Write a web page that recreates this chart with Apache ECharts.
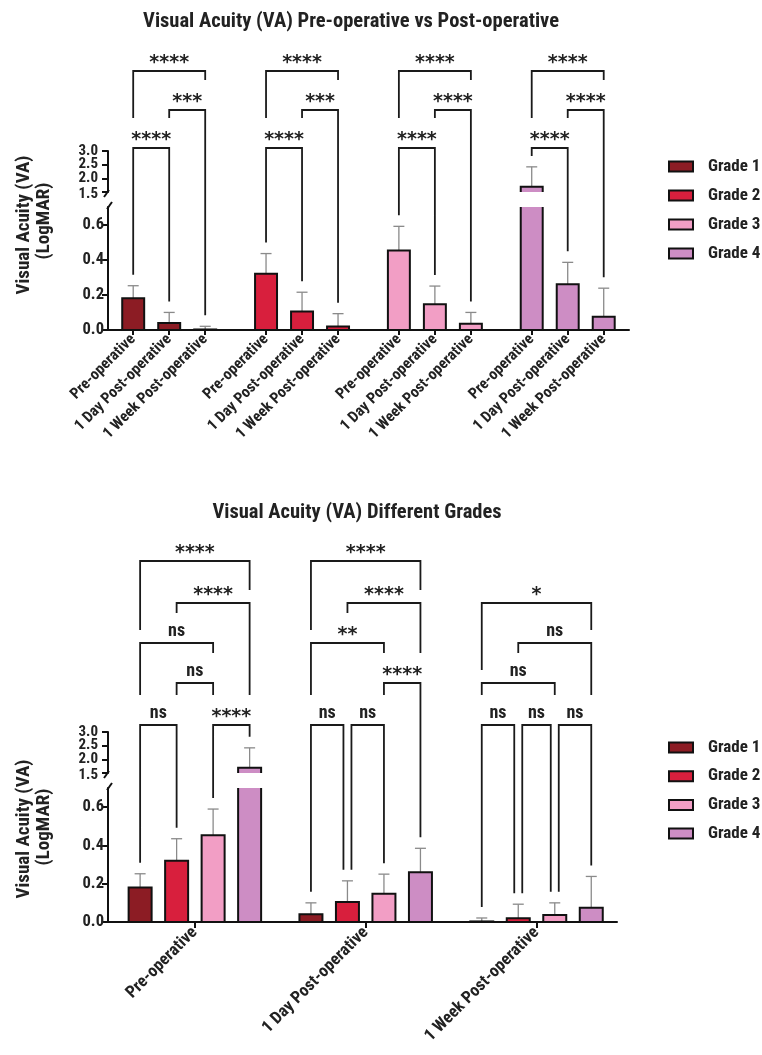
<!DOCTYPE html>
<html><head><meta charset="utf-8">
<script src="https://cdn.jsdelivr.net/npm/echarts@6/dist/echarts.min.js"></script>
<style>html,body{margin:0;padding:0;background:#fff}#c{width:762px;height:1055px}</style>
</head><body><div id="c"></div>
<script>
// ---------------- data ----------------
const grades = ['Grade 1', 'Grade 2', 'Grade 3', 'Grade 4'];
const timepoints = ['Pre-operative', '1 Day Post-operative', '1 Week Post-operative'];
// mean LogMAR per timepoint [Pre, 1 Day, 1 Week]
const meanGrade1 = [0.18, 0.04, 0.003];
const meanGrade2 = [0.32, 0.105, 0.02];
const meanGrade3 = [0.453, 0.147, 0.036];
const meanGrade4 = [1.69, 0.26, 0.075];
// SD (upper error bar) per timepoint
const sdGrade1 = [0.072, 0.06, 0.018];
const sdGrade2 = [0.115, 0.11, 0.073];
const sdGrade3 = [0.137, 0.103, 0.064];
const sdGrade4 = [0.73, 0.125, 0.163];
// broken y axis
const lowerTicks = [0, 0.2, 0.4, 0.6];
const upperTicks = [1.5, 2.0, 2.5, 3.0];
const lowerRange = [0, 0.7];
const upperRange = [1.5, 3.0];
// significance, top chart (within each grade)
const sigPreVs1Day = ['****', '****', '****', '****'];
const sig1DayVs1Week = ['***', '***', '****', '****'];
const sigPreVs1Week = ['****', '****', '****', '****'];
// significance, bottom chart (between grades within each timepoint)
const gradePairs = [[0, 1], [1, 2], [2, 3], [0, 2], [1, 3], [0, 3]];
const sigPre = ['ns', 'ns', '****', 'ns', '****', '****'];
const sig1Day = ['ns', 'ns', '****', '**', '****', '****'];
const sig1Week = ['ns', 'ns', 'ns', 'ns', 'ns', '*'];

// ---------------- style / layout ----------------
const colors = ['#8c1c24', '#d81f3d', '#f29ec5', '#cd8dc4'];
const FONT = "'Liberation Sans Narrow','Roboto Condensed','DejaVu Sans Condensed','Liberation Sans',sans-serif";
const STARFONT = "'DejaVu Sans',sans-serif";
const means = [meanGrade1, meanGrade2, meanGrade3, meanGrade4];
const sds = [sdGrade1, sdGrade2, sdGrade3, sdGrade4];
const TOP_GROUP = 3.69, BOT_GROUP = 4.68;
const xTop = (g, t) => g * TOP_GROUP + t;
const xBot = (t, g) => t * BOT_GROUP + g;
const TOP_BAR = 0.61, BOT_BAR = 0.63;

const topTickVals = [];
grades.forEach((_, g) => timepoints.forEach((_, t) => topTickVals.push(xTop(g, t))));
const botTickVals = timepoints.map((_, t) => xBot(t, 1.5));
const keyOf = v => Math.round(v * 100);
const topLabelMap = {}; grades.forEach((_, g) => timepoints.forEach((tp, t) => topLabelMap[keyOf(xTop(g, t))] = tp));
const botLabelMap = {}; timepoints.forEach((tp, t) => botLabelMap[keyOf(xBot(t, 1.5))] = tp);

const chart = echarts.init(document.getElementById('c'), null, {renderer: 'canvas'});

function makeRender(range, isUpper, barW) {
  return function (params, api) {
    const x = api.value(0), m = api.value(1), sd = api.value(2);
    const cap = m + sd;
    const lo = range[0], hi = range[1];
    if (isUpper && m <= lo) return null;
    const w = api.size([barW, 0])[0];
    const fill = api.visual('color');
    const base = api.coord([x, lo]);
    const cx = base[0], yBase = base[1];
    const yTop = api.coord([x, Math.min(m, hi)])[1];
    const x0 = cx - w / 2, x1 = cx + w / 2;
    const ch = [];
    const eStyle = {stroke: '#8a8a8a', lineWidth: 1.3};
    if (m <= hi) {
      const yCap = api.coord([x, Math.min(cap, hi)])[1];
      ch.push({type: 'line', shape: {x1: cx, y1: yTop, x2: cx, y2: yCap}, style: eStyle});
      if (cap <= hi) ch.push({type: 'line', shape: {x1: cx - 5.5, y1: yCap, x2: cx + 5.5, y2: yCap}, style: eStyle});
    }
    ch.push({type: 'rect', shape: {x: x0, y: yTop, width: w, height: yBase - yTop}, style: {fill: fill}});
    let pts, closed = false;
    if (isUpper) pts = [[x0, yBase], [x0, yTop], [x1, yTop], [x1, yBase]];
    else if (m > hi) pts = [[x0, yTop], [x0, yBase], [x1, yBase], [x1, yTop]];
    else { pts = [[x0, yTop], [x0, yBase], [x1, yBase], [x1, yTop]]; closed = true; }
    ch.push({type: closed ? 'polygon' : 'polyline', shape: {points: pts}, style: {fill: null, stroke: '#111', lineWidth: 2}});
    return {type: 'group', children: ch};
  };
}

const grids = [
  {left: 108, top: 151, width: 521, height: 41},
  {left: 108, top: 207, width: 521, height: 123},
  {left: 108, top: 732, width: 509, height: 41},
  {left: 108, top: 788, width: 509, height: 134}
].map(g => Object.assign({outerBoundsMode: 'none', containLabel: false}, g));

const axisLineStyle = {color: '#111', width: 2};
const tickLabelStyle = {fontFamily: FONT, fontWeight: 'bold', color: '#222', showMinLabel: true, showMaxLabel: true, hideOverlap: false};
const topXRange = {min: -0.7, max: -0.7 + 521 / 36};
const botXRange = {min: -0.88, max: -0.88 + 509 / 36.5};

const xAxes = [
  Object.assign({gridIndex: 0, type: 'value', show: false}, topXRange),
  Object.assign({gridIndex: 1, type: 'value',
    axisLine: {show: true, onZero: false, lineStyle: axisLineStyle},
    axisTick: {show: true, customValues: topTickVals, length: 5, lineStyle: axisLineStyle},
    axisLabel: Object.assign({show: true, customValues: topTickVals, rotate: 45, fontSize: 15.5, margin: 7,
      formatter: v => topLabelMap[keyOf(v)] || ''}, tickLabelStyle),
    splitLine: {show: false}}, topXRange),
  Object.assign({gridIndex: 2, type: 'value', show: false}, botXRange),
  Object.assign({gridIndex: 3, type: 'value',
    axisLine: {show: true, onZero: false, lineStyle: axisLineStyle},
    axisTick: {show: true, customValues: botTickVals, length: 6, lineStyle: axisLineStyle},
    axisLabel: Object.assign({show: true, customValues: botTickVals, rotate: 45, fontSize: 17, margin: 8,
      formatter: v => botLabelMap[keyOf(v)] || ''}, tickLabelStyle),
    splitLine: {show: false}}, botXRange)
];

function yLower(gi) {
  return {gridIndex: gi, type: 'value', min: lowerRange[0], max: lowerRange[1],
    axisLine: {show: true, onZero: false, lineStyle: axisLineStyle},
    axisTick: {show: true, customValues: lowerTicks, length: 6, lineStyle: axisLineStyle},
    axisLabel: Object.assign({show: true, customValues: lowerTicks, fontSize: 16.5, margin: 4,
      formatter: v => v.toFixed(1)}, tickLabelStyle),
    splitLine: {show: false}};
}
function yUpper(gi) {
  // tick labels of the upper segment are drawn as graphic text (too tight for auto label layout)
  return {gridIndex: gi, type: 'value', min: upperRange[0], max: upperRange[1], interval: 0.5,
    axisLine: {show: true, onZero: false, lineStyle: axisLineStyle},
    axisTick: {show: true, length: 6, lineStyle: axisLineStyle},
    axisLabel: {show: false},
    splitLine: {show: false}};
}
const yAxes = [yUpper(0), yLower(1), yUpper(2), yLower(3)];

const series = [];
grades.forEach((name, g) => {
  const topData = timepoints.map((_, t) => [xTop(g, t), means[g][t], sds[g][t]]);
  const botData = timepoints.map((_, t) => [xBot(t, g), means[g][t], sds[g][t]]);
  [[0, topData, TOP_BAR], [2, botData, BOT_BAR]].forEach(([gi, data, bw]) => {
    series.push({type: 'custom', name: name, xAxisIndex: gi + 1, yAxisIndex: gi + 1, data: data, clip: false, z: 3,
      itemStyle: {color: colors[g]}, renderItem: makeRender(lowerRange, false, bw), silent: true});
    series.push({type: 'custom', name: name, xAxisIndex: gi, yAxisIndex: gi, data: data, clip: false, z: 3,
      itemStyle: {color: colors[g]}, renderItem: makeRender(upperRange, true, bw), silent: true});
  });
});

function legendCfg(top, gap) {
  return {data: grades, orient: 'vertical', left: 663, top: top, itemWidth: 24, itemHeight: 10, itemGap: gap,
    icon: 'rect', selectedMode: false, itemStyle: {borderColor: '#111', borderWidth: 2},
    textStyle: {fontFamily: FONT, fontSize: 17, fontWeight: 'bold', color: '#222', padding: [0, 0, 0, 10]}};
}

chart.setOption({
  animation: false,
  backgroundColor: '#fff',
  grid: grids, xAxis: xAxes, yAxis: yAxes, series: series,
  legend: [legendCfg(153, 12), legendCfg(734, 11.7)]
});

// ---------------- brackets, breaks, titles ----------------
const gfx = [];
function labelW(s) { return s === 'ns' ? 16 : s.length * 10.5; }
function labelText(s, x, line) {
  if (s === 'ns') {
    return {type: 'text', x: x, y: line - 12, silent: true,
      style: {text: s, fontFamily: FONT, fontWeight: 'bold', fontSize: 18, fill: '#222', align: 'center', verticalAlign: 'middle'}};
  }
  return {type: 'text', x: x, y: line - 8, silent: true,
    style: {text: s, fontFamily: STARFONT, fontWeight: 'bold', fontSize: 19, fill: '#222', align: 'center', verticalAlign: 'middle'}};
}
function drawGroup(gLower, gUpper, items, brackets) {
  const px = items.map(it => chart.convertToPixel({gridIndex: gLower}, [it.x, 0])[0]);
  const capY = items.map(it => it.cap > lowerRange[1]
    ? chart.convertToPixel({gridIndex: gUpper}, [it.x, it.cap])[1]
    : chart.convertToPixel({gridIndex: gLower}, [it.x, it.cap])[1]);
  brackets.forEach(b => {
    const legEnd = i => {
      let e = capY[i] - 11;
      brackets.forEach(o => {
        if (o === b || o.line <= b.line) return;
        if (o.i1 <= i && i <= o.i2) {
          const cx = (px[o.i1] + px[o.i2]) / 2;
          const hw = labelW(o.label) / 2 + 12;
          e = Math.min(e, Math.abs(px[i] - cx) <= hw ? o.line - 30 : o.line - 13);
        }
      });
      return Math.max(e, b.line + 8);
    };
    const sl = brackets.some(o => o !== b && o.line === b.line && o.i2 === b.i1) ? 4 : 0;
    const sr = brackets.some(o => o !== b && o.line === b.line && o.i1 === b.i2) ? -4 : 0;
    const xl = px[b.i1] + sl, xr = px[b.i2] + sr;
    gfx.push({type: 'polyline', silent: true, z: 5,
      shape: {points: [[xl, legEnd(b.i1)], [xl, b.line], [xr, b.line], [xr, legEnd(b.i2)]]},
      style: {stroke: '#1a1a1a', lineWidth: 1.8, fill: null}});
    gfx.push(labelText(b.label, (xl + xr) / 2, b.line));
  });
}
// top chart: groups are grades
const topLevels = [148, 110, 71];
grades.forEach((_, g) => {
  const items = timepoints.map((_, t) => ({x: xTop(g, t), cap: means[g][t] + sds[g][t]}));
  drawGroup(1, 0, items, [
    {i1: 0, i2: 1, line: topLevels[0], label: sigPreVs1Day[g]},
    {i1: 1, i2: 2, line: topLevels[1], label: sig1DayVs1Week[g]},
    {i1: 0, i2: 2, line: topLevels[2], label: sigPreVs1Week[g]}
  ]);
});
// bottom chart: groups are timepoints
const botLevelY = {1: 561, 2: 603, 3: 643, 4: 683, 5: 725};
const botLevels = [[5, 4, 5, 3, 2, 1], [5, 5, 4, 3, 2, 1], [5, 5, 5, 4, 3, 2]];
const botSigs = [sigPre, sig1Day, sig1Week];
timepoints.forEach((_, t) => {
  const items = grades.map((_, g) => ({x: xBot(t, g), cap: means[g][t] + sds[g][t]}));
  drawGroup(3, 2, items, gradePairs.map((p, k) => ({i1: p[0], i2: p[1], line: botLevelY[botLevels[t][k]], label: botSigs[t][k]})));
});
// axis break marks + upper segment tick labels
[[0, 1, topXRange.min], [2, 3, botXRange.min]].forEach(([gu, gl, xmin]) => {
  const pu = chart.convertToPixel({gridIndex: gu}, [xmin, upperRange[0]]);
  const pl = chart.convertToPixel({gridIndex: gl}, [xmin, lowerRange[1]]);
  const st = {stroke: '#111', lineWidth: 2};
  gfx.push({type: 'line', silent: true, z: 6, shape: {x1: pu[0] - 4, y1: pu[1] + 5, x2: pu[0] + 1, y2: pu[1] - 2}, style: st});
  gfx.push({type: 'line', silent: true, z: 6, shape: {x1: pl[0] - 1, y1: pl[1] + 2, x2: pl[0] + 4, y2: pl[1] - 5}, style: st});
  upperTicks.forEach(v => {
    const p = chart.convertToPixel({gridIndex: gu}, [xmin, v]);
    gfx.push({type: 'text', silent: true, x: p[0] - 10, y: p[1] + (v === upperRange[0] ? 2 : 0),
      style: {text: v.toFixed(1), fontFamily: FONT, fontWeight: 'bold', fontSize: 15, fill: '#222', align: 'right', verticalAlign: 'middle'}});
  });
});
// titles and axis names
const titleStyle = {fontFamily: FONT, fontWeight: 'bold', fontSize: 20.5, fill: '#222', align: 'center', verticalAlign: 'middle'};
gfx.push({type: 'text', x: 351, y: 22, style: Object.assign({text: 'Visual Acuity (VA) Pre-operative vs Post-operative'}, titleStyle)});
gfx.push({type: 'text', x: 357, y: 513, style: Object.assign({text: 'Visual Acuity (VA) Different Grades'}, titleStyle)});
const nameStyle = {fontFamily: FONT, fontWeight: 'bold', fontSize: 19, fill: '#222', align: 'center', verticalAlign: 'middle'};
[[225, 221], [829, 827]].forEach(([c1, c2]) => {
  gfx.push({type: 'text', x: 24, y: c1, rotation: Math.PI / 2, style: Object.assign({text: 'Visual Acuity (VA)'}, nameStyle)});
  gfx.push({type: 'text', x: 44, y: c2, rotation: Math.PI / 2, style: Object.assign({text: '(LogMAR)'}, nameStyle)});
});
chart.setOption({graphic: gfx});
</script>
</body></html>
